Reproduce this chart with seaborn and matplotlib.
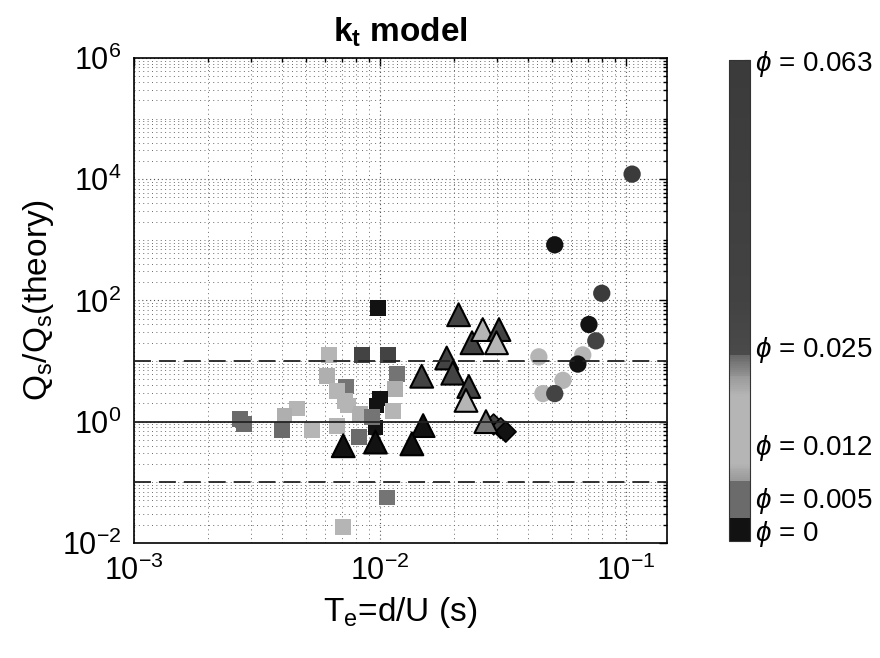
import numpy as np
import pandas as pd
import matplotlib
matplotlib.use("Agg")
import matplotlib.pyplot as plt
import seaborn as sns
from matplotlib.colors import LinearSegmentedColormap, FuncNorm, Normalize
from matplotlib.cm import ScalarMappable
from matplotlib.ticker import LogLocator, FixedLocator, NullFormatter

# ---------------- data ----------------
sq_x = [0.0098, 0.0062, 0.00845, 0.0108, 0.0117, 0.0061, 0.0073, 0.0067, 0.0115,
        0.0100, 0.0097, 0.0074, 0.0113, 0.0046, 0.0041, 0.0027, 0.0028, 0.0040,
        0.0053, 0.0067, 0.0082, 0.0096, 0.0107, 0.0071, 0.0083, 0.0072, 0.0093]
sq_y = [76, 12.6, 12.6, 12.6, 6.1, 5.6, 3.8, 3.2, 3.4,
        2.4, 1.85, 1.85, 1.5, 1.65, 1.26, 1.1, 0.9, 0.72,
        0.72, 0.86, 0.56, 0.8, 0.056, 0.018, 1.35, 2.2, 1.2]
sq_phi = [0.0, 0.010, 0.030, 0.030, 0.023, 0.019, 0.023, 0.010, 0.019,
          0.0, 0.0, 0.010, 0.010, 0.010, 0.019, 0.004, 0.004, 0.004,
          0.010, 0.010, 0.004, 0.0, 0.023, 0.010, 0.019, 0.010, 0.023]

tri_x = [0.0209, 0.0237, 0.0262, 0.0305, 0.0298, 0.0187, 0.0148, 0.0198, 0.0230,
         0.0224, 0.0270, 0.0150, 0.0135, 0.0071, 0.0096]
tri_y = [58, 20, 33, 33, 20, 11.2, 5.6, 6.3, 3.8,
         2.24, 1.0, 0.86, 0.43, 0.40, 0.46]
tri_phi = [0.030, 0.030, 0.010, 0.030, 0.010, 0.030, 0.030, 0.030, 0.030,
           0.010, 0.023, 0.0, 0.0, 0.0, 0.0]

dia_x = [0.0290, 0.0310, 0.0325]
dia_y = [0.90, 0.78, 0.68]
dia_phi = [0.030, 0.030, 0.0]

cir_x = [0.106, 0.0514, 0.0798, 0.0708, 0.0755, 0.0668, 0.0638, 0.0443, 0.0555, 0.0460, 0.0514]
cir_y = [12100, 826, 131, 40, 21.5, 12.6, 8.9, 11.7, 4.8, 2.9, 2.9]
cir_phi = [0.060, 0.0, 0.060, 0.0, 0.030, 0.012, 0.0, 0.012, 0.012, 0.015, 0.030]

phi_ticks = [0, 0.005, 0.012, 0.025, 0.063]
phi_tick_labels = [r"$\phi$ = 0", r"$\phi$ = 0.005", r"$\phi$ = 0.012",
                   r"$\phi$ = 0.025", r"$\phi$ = 0.063"]
frac_knots = [0.0, 0.092, 0.201, 0.405, 1.0]

# ---------------- style ----------------
sns.set_theme(style="white")
plt.rcParams["font.family"] = ["Liberation Sans", "DejaVu Sans"]
plt.rcParams["mathtext.fontset"] = "custom"
plt.rcParams["mathtext.rm"] = "Liberation Sans"
plt.rcParams["mathtext.it"] = "Liberation Sans:italic"
plt.rcParams["mathtext.bf"] = "Liberation Sans:bold"
for k in ["text.color", "axes.labelcolor", "xtick.color", "ytick.color", "axes.edgecolor"]:
    plt.rcParams[k] = "black"

# grayscale colormap (printed jet)
cm_pos = [0.0, 0.044, 0.044, 0.124, 0.124, 0.16, 0.30, 0.342, 0.342, 0.386, 0.386, 0.5, 1.0]
cm_g = [0.07, 0.07, 0.42, 0.42, 0.60, 0.71, 0.71, 0.60, 0.58, 0.40, 0.29, 0.26, 0.23]
cmap = LinearSegmentedColormap.from_list("grayjet", [(p, (g, g, g)) for p, g in zip(cm_pos, cm_g)])


def fwd(v):
    return np.interp(v, phi_ticks, frac_knots)


def inv(u):
    return np.interp(u, frac_knots, phi_ticks)


norm = FuncNorm((fwd, inv), vmin=0, vmax=0.063)

df_sq = pd.DataFrame({"x": sq_x, "y": sq_y, "phi": sq_phi})
df_tri = pd.DataFrame({"x": tri_x, "y": tri_y, "phi": tri_phi})
df_dia = pd.DataFrame({"x": dia_x, "y": dia_y, "phi": dia_phi})
df_cir = pd.DataFrame({"x": cir_x, "y": cir_y, "phi": cir_phi})

fig = plt.figure(figsize=(8.8, 6.58), dpi=100)
ax = fig.add_axes([0.152, 0.175, 0.606, 0.737])

ax.set_xscale("log")
ax.set_yscale("log")

common = dict(hue="phi", palette=cmap, hue_norm=norm, legend=False, ax=ax, zorder=3)
sns.scatterplot(data=df_sq, x="x", y="y", marker="s", s=130, linewidth=0, **common)
sns.scatterplot(data=df_cir, x="x", y="y", marker="o", s=155, linewidth=0, **common)
sns.scatterplot(data=df_dia, x="x", y="y", marker="D", s=110, linewidth=1.2, edgecolor="black", **common)
sns.scatterplot(data=df_tri, x="x", y="y", marker="^", s=270, linewidth=1.5, edgecolor="black", **common)

# reference lines
ax.axhline(1, color="#222222", lw=1.3, zorder=4)
ax.axhline(10, color="#222222", lw=1.3, ls=(0, (9.4, 4.4)), zorder=4)
ax.axhline(0.1, color="#222222", lw=1.3, ls=(0, (9.4, 4.4)), zorder=4)

ax.yaxis.set_major_locator(FixedLocator([1e-2, 1e0, 1e2, 1e4, 1e6]))
ax.yaxis.set_minor_locator(LogLocator(base=10, subs=np.arange(1, 10), numticks=50))
ax.yaxis.set_minor_formatter(NullFormatter())
ax.xaxis.set_major_locator(FixedLocator([1e-3, 1e-2, 1e-1]))
ax.xaxis.set_minor_locator(LogLocator(base=10, subs=np.arange(2, 10), numticks=50))
ax.xaxis.set_minor_formatter(NullFormatter())
ax.set_xlim(1e-3, 0.147)
ax.set_ylim(1e-2, 1e6)

ax.grid(True, which="major", ls=(0, (1, 2.5)), color="#555555", lw=0.8, zorder=0)
ax.grid(True, which="minor", ls=(0, (1, 3.5)), color="#6a6a6a", lw=0.7, zorder=0)
ax.set_axisbelow(True)

ax.tick_params(which="both", direction="in", top=True, right=True, colors="black",
               labelsize=22, width=1.0)
ax.tick_params(which="major", length=6, pad=9)
ax.tick_params(which="minor", length=3)
for sp in ax.spines.values():
    sp.set_color("black")
    sp.set_linewidth(1.2)

ax.set_xlabel(r"T$_\mathregular{e}$=d/U (s)", fontsize=24, labelpad=6)
ax.set_ylabel(r"Q$_\mathregular{s}$/Q$_\mathregular{s}$(theory)", fontsize=24, labelpad=4)
ax.set_title(r"$\mathbf{k}_\mathbf{t}$ model", fontsize=24, fontweight="bold", pad=12)

# colorbar
cax = fig.add_axes([0.828, 0.178, 0.024, 0.731])
sm = ScalarMappable(norm=Normalize(0, 1), cmap=cmap)
cb = fig.colorbar(sm, cax=cax)
tick_pos = np.maximum(fwd(np.array(phi_ticks)), 0.023)
cb.set_ticks(tick_pos)
cb.set_ticklabels(phi_tick_labels)
cb.ax.tick_params(labelsize=20, direction="in", length=4, width=0.8, pad=4, colors="black")
cb.outline.set_linewidth(0.8)
cb.outline.set_edgecolor("#333333")

fig.savefig("out.png", dpi=100)
